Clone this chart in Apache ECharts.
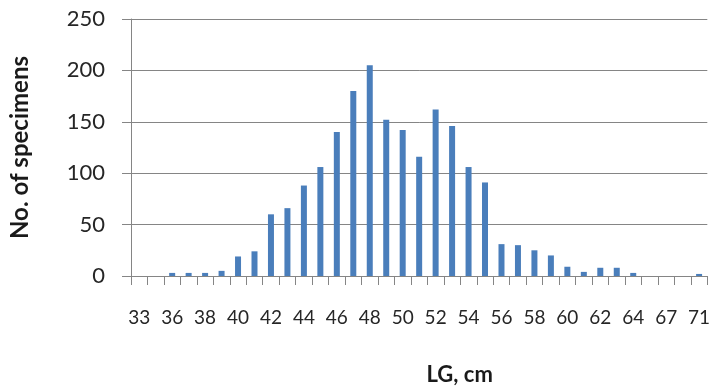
<!DOCTYPE html>
<html>
<head>
<meta charset="utf-8">
<script src="https://cdn.jsdelivr.net/npm/echarts@6/dist/echarts.min.js"></script>
<style>
html,body{margin:0;padding:0;background:#fff;}
#chart{width:713px;height:391px;}
</style>
</head>
<body>
<div id="chart"></div>
<script>
const categories = ['33','35','36','37','38','39','40','41','42','43','44','45','46','47','48','49','50','51','52','53','54','55','56','57','58','59','60','61','62','63','64','65','67','69','71'];
const specimens = [0,0,3,3,3,5,19,24,60,66,88,106,140,180,205,152,142,116,162,146,106,91,31,30,25,20,9,4,8,8,3,0,0,0,2];
const yTicks = [0,50,100,150,200,250];

const chart = echarts.init(document.getElementById('chart'));
const gray = '#858585';
chart.setOption({
  animation: false,
  grid: {left: 124, right: 5, top: 19, bottom: 112, containLabel: false},
  xAxis: {
    type: 'category',
    data: categories,
    boundaryGap: true,
    name: 'LG, cm',
    nameLocation: 'middle',
    nameGap: 88,
    nameTextStyle: {fontFamily: 'Lato', fontWeight: 'bold', fontSize: 22, color: '#1a1a1a', padding: [0,0,0,81]},
    axisLine: {lineStyle: {color: gray, width: 1}},
    axisTick: {show: true, interval: 0, alignWithLabel: false, length: 9, lineStyle: {color: gray}},
    axisLabel: {interval: 1, margin: 32, fontFamily: 'Lato', fontSize: 19, color: '#262626'}
  },
  yAxis: {
    type: 'value',
    min: yTicks[0],
    max: yTicks[yTicks.length - 1],
    interval: 50,
    name: 'No. of specimens',
    nameLocation: 'middle',
    nameGap: 99,
    nameTextStyle: {fontFamily: 'Lato', fontWeight: 'bold', fontSize: 24, color: '#1a1a1a'},
    axisLine: {show: true, lineStyle: {color: gray, width: 1}},
    axisTick: {show: true, length: 9, lineStyle: {color: gray}},
    splitLine: {show: true, lineStyle: {color: gray, width: 1}},
    axisLabel: {margin: 26, fontFamily: 'Lato', fontSize: 22, color: '#262626'}
  },
  series: [{
    type: 'bar',
    data: specimens,
    barWidth: 6,
    itemStyle: {color: '#4a7ebb'}
  }]
});
</script>
</body>
</html>
